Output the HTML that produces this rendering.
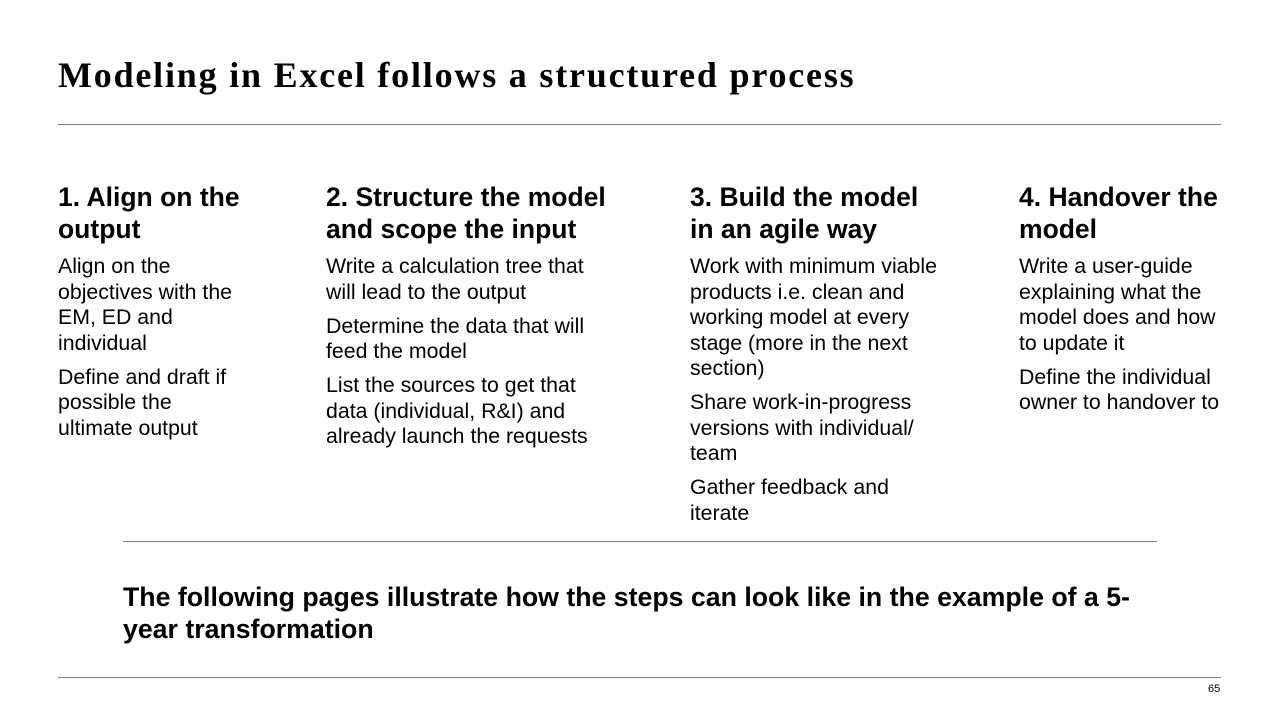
<!DOCTYPE html>
<html><head><meta charset="utf-8"><style>
body{margin:0;width:1280px;height:720px;background:#fff;position:relative;font-family:"Liberation Sans",Arial,sans-serif;color:#000;overflow:hidden}
.t{position:absolute;left:58px;top:53px;font-family:"Liberation Serif",serif;font-weight:bold;font-size:36px;line-height:44px;letter-spacing:1.8px;white-space:nowrap}
.hr{position:absolute;height:1px;background:#808080}
.col{position:absolute;top:181px;white-space:nowrap}
.col h2{margin:0;font-size:26.5px;line-height:32px;font-weight:bold}
.col p{margin:2px 0 8.5px;font-size:21.3px;line-height:25.5px}
.col h2+p{margin-top:9px}
.b{position:absolute;left:123px;top:581px;font-weight:bold;font-size:26.7px;line-height:32px;white-space:nowrap}
.n{position:absolute;left:1208px;top:683px;font-size:11px}
</style></head><body>
<div class="t">Modeling in Excel follows a structured process</div>
<div class="hr" style="left:58px;top:124px;width:1163px"></div>
<div class="col" style="left:58px"><h2>1. Align on the<br>output</h2><p>Align on the<br>objectives with the<br>EM, ED and<br>individual</p><p>Define and draft if<br>possible the<br>ultimate output</p></div>
<div class="col" style="left:326px"><h2>2. Structure the model<br>and scope the input</h2><p>Write a calculation tree that<br>will lead to the output</p><p>Determine the data that will<br>feed the model</p><p>List the sources to get that<br>data (individual, R&amp;I) and<br>already launch the requests</p></div>
<div class="col" style="left:690px"><h2>3. Build the model<br>in an agile way</h2><p>Work with minimum viable<br>products i.e. clean and<br>working model at every<br>stage (more in the next<br>section)</p><p>Share work-in-progress<br>versions with individual/<br>team</p><p>Gather feedback and<br>iterate</p></div>
<div class="col" style="left:1019px"><h2>4. Handover the<br>model</h2><p>Write a user-guide<br>explaining what the<br>model does and how<br>to update it</p><p>Define the individual<br>owner to handover to</p></div>
<div class="hr" style="left:123px;top:541px;width:1034px"></div>
<div class="b">The following pages illustrate how the steps can look like in the example of a 5-<br>year transformation</div>
<div class="hr" style="left:58px;top:677px;width:1163px"></div>
<div class="n">65</div>
</body></html>
